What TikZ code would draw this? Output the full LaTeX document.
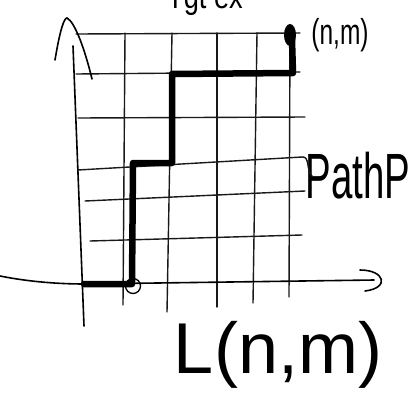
\documentclass[tikz,border=0pt]{standalone}
\usepackage{fontspec}
\setmainfont{Liberation Sans}
\usetikzlibrary{shapes.geometric}
\begin{document}
\begin{tikzpicture}[x=1pt,y=-1pt,
  thin line/.style={line width=1.4pt,line cap=round,black!90},
  axisline/.style={line width=1.6pt,line cap=round},
  pathline/.style={line width=6.5pt,line cap=round,line join=round},
  lbl/.style={inner sep=0pt}]
\useasboundingbox (0,0) rectangle (417,394);
\begin{scope}
\clip (0,0) rectangle (417,394);
\node[lbl,font=\fontsize{34}{36}\selectfont,xscale=0.8] (top) at (205,0) {Tgt ex};
\end{scope}
% grid horizontals
\coordinate (h1a) at (76,34);  \coordinate (h1b) at (300,33);
\coordinate (h2a) at (76,74);  \coordinate (h2b) at (300,72);
\coordinate (h3a) at (78,118); \coordinate (h3b) at (305,117);
\coordinate (h4a) at (78,170); \coordinate (h4b) at (302,157);
\coordinate (h5a) at (85,201); \coordinate (h5b) at (305,191);
\coordinate (h6a) at (90,241); \coordinate (h6b) at (302,235);
\foreach \i in {1,...,6} \draw[thin line] (h\i a) -- (h\i b);
% grid verticals
\coordinate (v1a) at (125,33); \coordinate (v1b) at (123,305);
\coordinate (v2a) at (172,33); \coordinate (v2b) at (167,312);
\coordinate (v3a) at (217,33); \coordinate (v3b) at (217,307);
\coordinate (v4a) at (257,33); \coordinate (v4b) at (253,303);
\coordinate (v5a) at (290,33); \coordinate (v5b) at (289,297);
\foreach \i in {1,...,5} \draw[thin line] (v\i a) -- (v\i b);
% y axis
\coordinate (ya) at (84,326); \coordinate (yb) at (73,46);
\draw[axisline] (ya) -- (yb);
\coordinate (yl) at (55,60); \coordinate (yt) at (67,18); \coordinate (yr) at (92,79);
\draw[axisline] (yl) .. controls (60,30) and (64,18) .. (yt) .. controls (75,22) and (85,50) .. (yr);
% x axis
\coordinate (xa) at (0,276); \coordinate (xb) at (374,280);
\draw[axisline] (xa) .. controls (30,282) and (60,284) .. (85,284) -- (xb);
\coordinate (xh1) at (360,270); \coordinate (xh2) at (365,291);
\draw[axisline] (xh1) .. controls (385,270) and (390,288) .. (xh2);
% thick path
\coordinate (p0) at (84,284); \coordinate (p1) at (132,284);
\coordinate (p2) at (133,163); \coordinate (p3) at (172,163);
\coordinate (p4) at (172,74);  \coordinate (p5) at (293,73);
\coordinate (p6) at (292,40);
\draw[pathline] (p0) -- (p1) -- (p2) -- (p3) -- (p4) -- (p5) -- (p6);
\node[draw,circle,line width=1.3pt,minimum size=15pt,inner sep=0pt] (c0) at (133,286) {};
\node[fill=black,ellipse,minimum width=12pt,minimum height=22pt,inner sep=0pt] (blob) at (290,35) {};
% labels
\node[lbl,font=\fontsize{36}{38}\selectfont,xscale=0.68] (nm) at (340,35) {(n,m)};
\node[lbl,font=\fontsize{64}{66}\selectfont,xscale=0.6] (pp) at (358,176) {PathP};
\draw[thin line] (h4b) .. controls (310,156) and (306,170) .. (312,176);
\node[lbl,font=\fontsize{72}{74}\selectfont] (L) at (278,355) {L(n,m)};
\end{tikzpicture}
\end{document}
